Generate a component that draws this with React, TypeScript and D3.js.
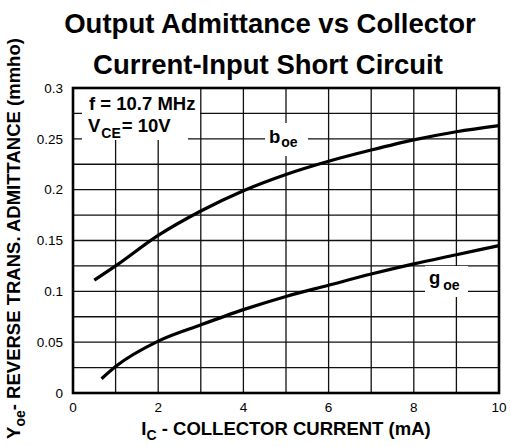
import { useEffect, useRef } from 'react';
import { curveMonotoneX, line, range, scaleLinear, select } from 'd3';

// I_C (mA) vs admittance (mmho)
const boeCurrent = [0.5, 1, 2, 3, 4, 5, 6, 7, 8, 9, 10];
const boeValues = [0.111, 0.125, 0.155, 0.179, 0.199, 0.215, 0.228, 0.239, 0.249, 0.257, 0.263];
const goeCurrent = [0.67, 1, 2, 3, 4, 5, 6, 7, 8, 9, 10];
const goeValues = [0.014, 0.026, 0.051, 0.067, 0.082, 0.095, 0.106, 0.117, 0.127, 0.136, 0.145];

const xTicks = [0, 2, 4, 6, 8, 10];
const yTicks = [0, 0.05, 0.1, 0.15, 0.2, 0.25, 0.3];
const yTickLabels = ['0', '0.05', '0.1', '0.15', '0.2', '0.25', '0.3'];

const FONT = "'Liberation Sans', Arial, Helvetica, sans-serif";

export default function App() {
  const svgRef = useRef<SVGSVGElement | null>(null);
  const width = 511;
  const height = 447;
  const plot = { left: 73, right: 499, top: 88, bottom: 393 };

  useEffect(() => {
    document.body.style.margin = '0';
    const svgElement = svgRef.current;
    if (!svgElement) return;
    const svg = select(svgElement);
    svg.selectAll('*').remove();

    const x = scaleLinear().domain([0, 10]).range([plot.left, plot.right]);
    const y = scaleLinear().domain([0, 0.3]).range([plot.bottom, plot.top]);

    // title
    const title = svg.append('text')
      .attr('font-family', FONT)
      .attr('font-weight', 'bold')
      .attr('font-size', 27.5)
      .attr('text-anchor', 'middle')
      .attr('fill', '#000');
    title.append('tspan').attr('x', 270).attr('y', 33).text('Output Admittance vs Collector');
    title.append('tspan').attr('x', 268).attr('y', 74).text('Current-Input Short Circuit');

    // grid
    const grid = svg.append('g').attr('stroke', '#111').attr('stroke-width', 1.3);
    grid.selectAll('line.v')
      .data(range(1, 10))
      .join('line')
      .attr('x1', (d) => x(d))
      .attr('x2', (d) => x(d))
      .attr('y1', plot.top)
      .attr('y2', plot.bottom);
    grid.selectAll('line.h')
      .data(range(1, 12).map((i) => i * 0.025))
      .join('line')
      .attr('class', 'h')
      .attr('x1', plot.left)
      .attr('x2', plot.right)
      .attr('y1', (d) => y(d))
      .attr('y2', (d) => y(d));

    // white label boxes that mask the grid
    svg.append('rect').attr('x', 82).attr('y', plot.top + 1).attr('width', 118).attr('height', 36).attr('fill', '#fff');
    svg.append('rect').attr('x', 82).attr('y', plot.top + 1).attr('width', 106).attr('height', 51).attr('fill', '#fff');
    svg.append('rect').attr('x', 265).attr('y', 123).attr('width', 43).attr('height', 33).attr('fill', '#fff');
    svg.append('rect').attr('x', 425).attr('y', 266).attr('width', 43).attr('height', 31).attr('fill', '#fff');

    // frame
    svg.append('rect')
      .attr('x', plot.left)
      .attr('y', plot.top)
      .attr('width', plot.right - plot.left)
      .attr('height', plot.bottom - plot.top)
      .attr('fill', 'none')
      .attr('stroke', '#000')
      .attr('stroke-width', 2.6);

    // curves
    const series = [
      { xs: boeCurrent, ys: boeValues },
      { xs: goeCurrent, ys: goeValues },
    ];
    const path = line<[number, number]>()
      .x((d) => x(d[0]))
      .y((d) => y(d[1]))
      .curve(curveMonotoneX);
    series.forEach((s) => {
      svg.append('path')
        .attr('d', path(s.xs.map((v, i) => [v, s.ys[i]] as [number, number])) ?? '')
        .attr('fill', 'none')
        .attr('stroke', '#000')
        .attr('stroke-width', 3.2);
    });

    // tick labels
    svg.append('g')
      .selectAll('text')
      .data(yTicks)
      .join('text')
      .attr('x', 63)
      .attr('y', (d) => y(d) + 4.8)
      .attr('text-anchor', 'end')
      .attr('font-family', FONT)
      .attr('font-size', 13.5)
      .text((d, i) => yTickLabels[i]);
    svg.append('g')
      .selectAll('text')
      .data(xTicks)
      .join('text')
      .attr('x', (d) => x(d))
      .attr('y', 412)
      .attr('text-anchor', 'middle')
      .attr('font-family', FONT)
      .attr('font-size', 13.5)
      .text((d) => String(d));

    // legend text
    const legend = svg.append('g').attr('font-family', FONT).attr('font-weight', 'bold').attr('fill', '#000');
    legend.append('text').attr('x', 89).attr('y', 110).attr('font-size', 18.5).text('f = 10.7 MHz');
    const vce = legend.append('text').attr('x', 88).attr('y', 132).attr('font-size', 18.5);
    vce.append('tspan').text('V');
    vce.append('tspan').attr('font-size', 14).attr('dy', 6).attr('dx', 1).text('CE');
    vce.append('tspan').attr('dy', -6).attr('dx', 1).text('= 10V');

    const boe = legend.append('text').attr('x', 269).attr('y', 143).attr('font-size', 18.5);
    boe.append('tspan').text('b');
    boe.append('tspan').attr('font-size', 14).attr('dy', 4).attr('dx', 1).text('oe');
    const goe = legend.append('text').attr('x', 429).attr('y', 284).attr('font-size', 18.5);
    goe.append('tspan').text('g');
    goe.append('tspan').attr('font-size', 14).attr('dy', 6).attr('dx', 3).text('oe');

    // axis titles
    const xTitle = svg.append('text')
      .attr('x', 286)
      .attr('y', 435)
      .attr('text-anchor', 'middle')
      .attr('font-family', FONT)
      .attr('font-weight', 'bold')
      .attr('font-size', 18.5);
    xTitle.append('tspan').text('I');
    xTitle.append('tspan').attr('font-size', 14).attr('dy', 5).text('C');
    xTitle.append('tspan').attr('dy', -5).text(' - COLLECTOR CURRENT (mA)');

    const yTitle = svg.append('text')
      .attr('transform', 'translate(19.5, 238.5) rotate(-90)')
      .attr('text-anchor', 'middle')
      .attr('font-family', FONT)
      .attr('font-weight', 'bold')
      .attr('font-size', 18.5);
    yTitle.append('tspan').text('Y');
    yTitle.append('tspan').attr('font-size', 14).attr('dy', 5).text('oe');
    yTitle.append('tspan').attr('dy', -5).text('- REVERSE TRANS. ADMITTANCE (mmho)');
  }, []);

  return (
    <svg
      ref={svgRef}
      width={width}
      height={height}
      viewBox={`0 0 ${width} ${height}`}
      style={{ display: 'block', background: '#fff' }}
    />
  );
}
